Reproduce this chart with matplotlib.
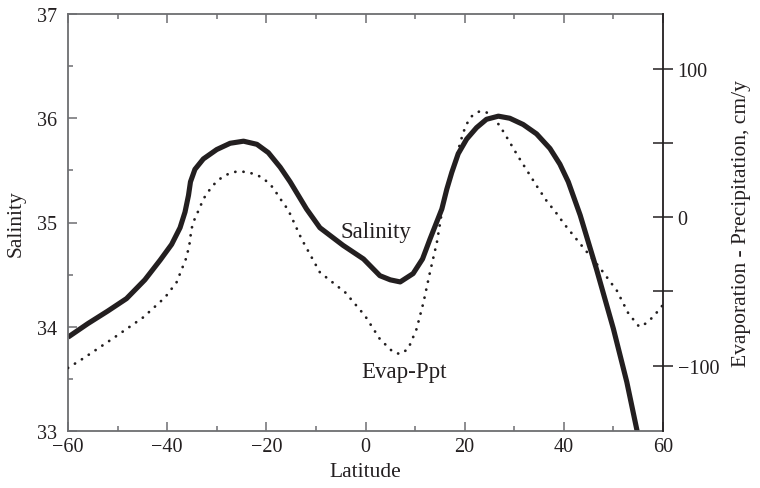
import matplotlib
matplotlib.use("Agg")
import matplotlib.pyplot as plt
from matplotlib.ticker import MultipleLocator, FixedLocator

plt.rcParams['font.family'] = ['Liberation Serif', 'DejaVu Serif']

# Salinity (left axis)
sal_lat = [-60, -56, -52, -48.2, -44.5, -41.4, -39.1, -37.4, -36.4, -35.7, -35.3, -34.4,
           -32.7, -30.0, -27.3, -24.6, -21.9, -19.6, -17.2, -15.2, -11.9, -9.2, -4.5,
           -0.4, 2.9, 5.0, 7.0, 9.6, 11.5, 13.0, 15.4, 16.4, 17.4, 18.7, 20.4, 22.4,
           24.4, 26.8, 29.1, 31.8, 34.5, 37.2, 39.2, 40.9, 43.3, 46.6, 50.0, 52.7, 55.0]
sal_val = [33.90, 34.03, 34.15, 34.27, 34.45, 34.64, 34.79, 34.95, 35.10, 35.26, 35.39, 35.51,
           35.61, 35.70, 35.76, 35.78, 35.75, 35.67, 35.53, 35.39, 35.13, 34.95, 34.78,
           34.65, 34.49, 34.45, 34.43, 34.51, 34.65, 34.84, 35.13, 35.32, 35.48, 35.66, 35.80, 35.91,
           35.99, 36.02, 36.00, 35.94, 35.85, 35.71, 35.56, 35.39, 35.07, 34.55, 33.98, 33.47, 32.95]

# Evaporation - Precipitation (right axis, cm/y)
ep_lat = [-60, -56.9, -50.9, -44.8, -40.4, -38.1, -36.1, -35.5, -35.1, -34.6, -34.0, -33.4,
          -32.7, -31.8, -30.7, -29.2, -27.7, -26.2, -24.6, -23.2, -21.6, -20.1, -18.7,
          -17.6, -16.6, -15.6, -12.9, -9.2, -4.1, -0.1, 2.9, 5.6, 7.0, 8.6, 10.3, 11.7,
          13.0, 14.4, 15.4, 16.0, 17.0, 18.1, 19.0, 19.7, 20.4, 21.4, 23.0, 24.4, 27.0,
          28.9, 30.7, 32.6, 34.5, 36.5, 38.9, 39.9, 43.6, 47.3, 50.7, 53.0, 55.2, 56.7,
          58.2, 60.0]
ep_val = [-101.6, -95.1, -81.6, -67.4, -53.9, -43.8, -27.0, -18.0, -7.9, -2.3, 2.2, 6.7,
          12.3, 16.9, 21.8, 26.3, 29.2, 30.7, 30.7, 29.9, 28.1, 24.7, 20.2,
          14.6, 9.6, 5.1, -14.6, -37.1, -50.6, -66.4, -82.1, -91.0, -92.2, -88.8, -75.3, -57.3,
          -37.1, -16.9, 3.4, 12.3, 25.8, 37.1, 49.0, 57.0, 62.9, 68.1, 71.5, 70.8, 62.2,
          51.7, 41.5, 31.4, 21.3, 11.2, 1.1, -3.8, -19.1, -34.2, -49.5, -64.7, -73.8, -71.3,
          -66.4, -59.0]

x_ticks = [-60, -40, -20, 0, 20, 40, 60]
sal_ticks = [33, 34, 35, 36, 37]
ep_ticks = [-100, 0, 100]

ink = '#231f20'
spine_grey = '#6d6e71'

fig = plt.figure(figsize=(7.6, 4.89), dpi=100)
ax = fig.add_axes([68/760, 1-432/489, (663-68)/760, (432-15)/489])
ax2 = ax.twinx()

ax.plot(sal_lat, sal_val, color=ink, lw=3.7, solid_capstyle='butt', solid_joinstyle='round')
ax2.plot(ep_lat, ep_val, color=ink, lw=2.0, linestyle=(0, (0.05, 2.9)),
         dash_capstyle='round')

ax.set_xlim(-60, 60)
ax.set_ylim(33, 37)
ax2.set_ylim(-144.1, 137.1)

ax.xaxis.set_major_locator(FixedLocator(x_ticks))
ax.xaxis.set_minor_locator(MultipleLocator(10))
ax.yaxis.set_major_locator(FixedLocator(sal_ticks))
ax.yaxis.set_minor_locator(MultipleLocator(0.5))
ax.set_xticklabels([('\u2212%d' % -v) if v < 0 else '%d' % v for v in x_ticks])
ax.set_yticklabels(['%d' % v for v in sal_ticks])

ax.tick_params(which='both', direction='in', top=True, right=False, labelsize=14.5,
               color=spine_grey, width=1.1, pad=4, labelcolor=ink)
ax.tick_params(which='major', length=6.5)
ax.tick_params(which='minor', length=3.8)
ax.tick_params(axis='y', pad=8)

ax2.yaxis.set_major_locator(FixedLocator(ep_ticks))
ax2.yaxis.set_minor_locator(FixedLocator([-50, 50]))
ax2.set_yticklabels(['\u2212100', '0', '100'])
ax2.tick_params(which='both', direction='inout', labelsize=14.5, color=ink, width=1.1,
                labelcolor=ink, pad=3)
ax2.tick_params(which='major', length=15)
ax2.tick_params(which='minor', length=14)

for s in ['left', 'bottom', 'top']:
    ax.spines[s].set_color(spine_grey)
    ax.spines[s].set_linewidth(1.3)
for s in ['left', 'bottom', 'top']:
    ax2.spines[s].set_visible(False)
ax.spines['right'].set_visible(False)
ax2.spines['right'].set_color(ink)
ax2.spines['right'].set_linewidth(1.3)

ax.set_xlabel('Latitude', fontsize=15.5, color=ink, labelpad=5)
ax.set_ylabel('Salinity', fontsize=15.5, color=ink, labelpad=8)
ax2.set_ylabel('Evaporation - Precipitation, cm/y', fontsize=15.5, color=ink, labelpad=9)

ax.text(2.2, 34.91, 'Salinity', fontsize=16.5, color=ink, ha='center', va='center')
ax.text(7.7, 33.57, 'Evap-Ppt', fontsize=16.5, color=ink, ha='center', va='center')

fig.savefig('out.png', dpi=100)
